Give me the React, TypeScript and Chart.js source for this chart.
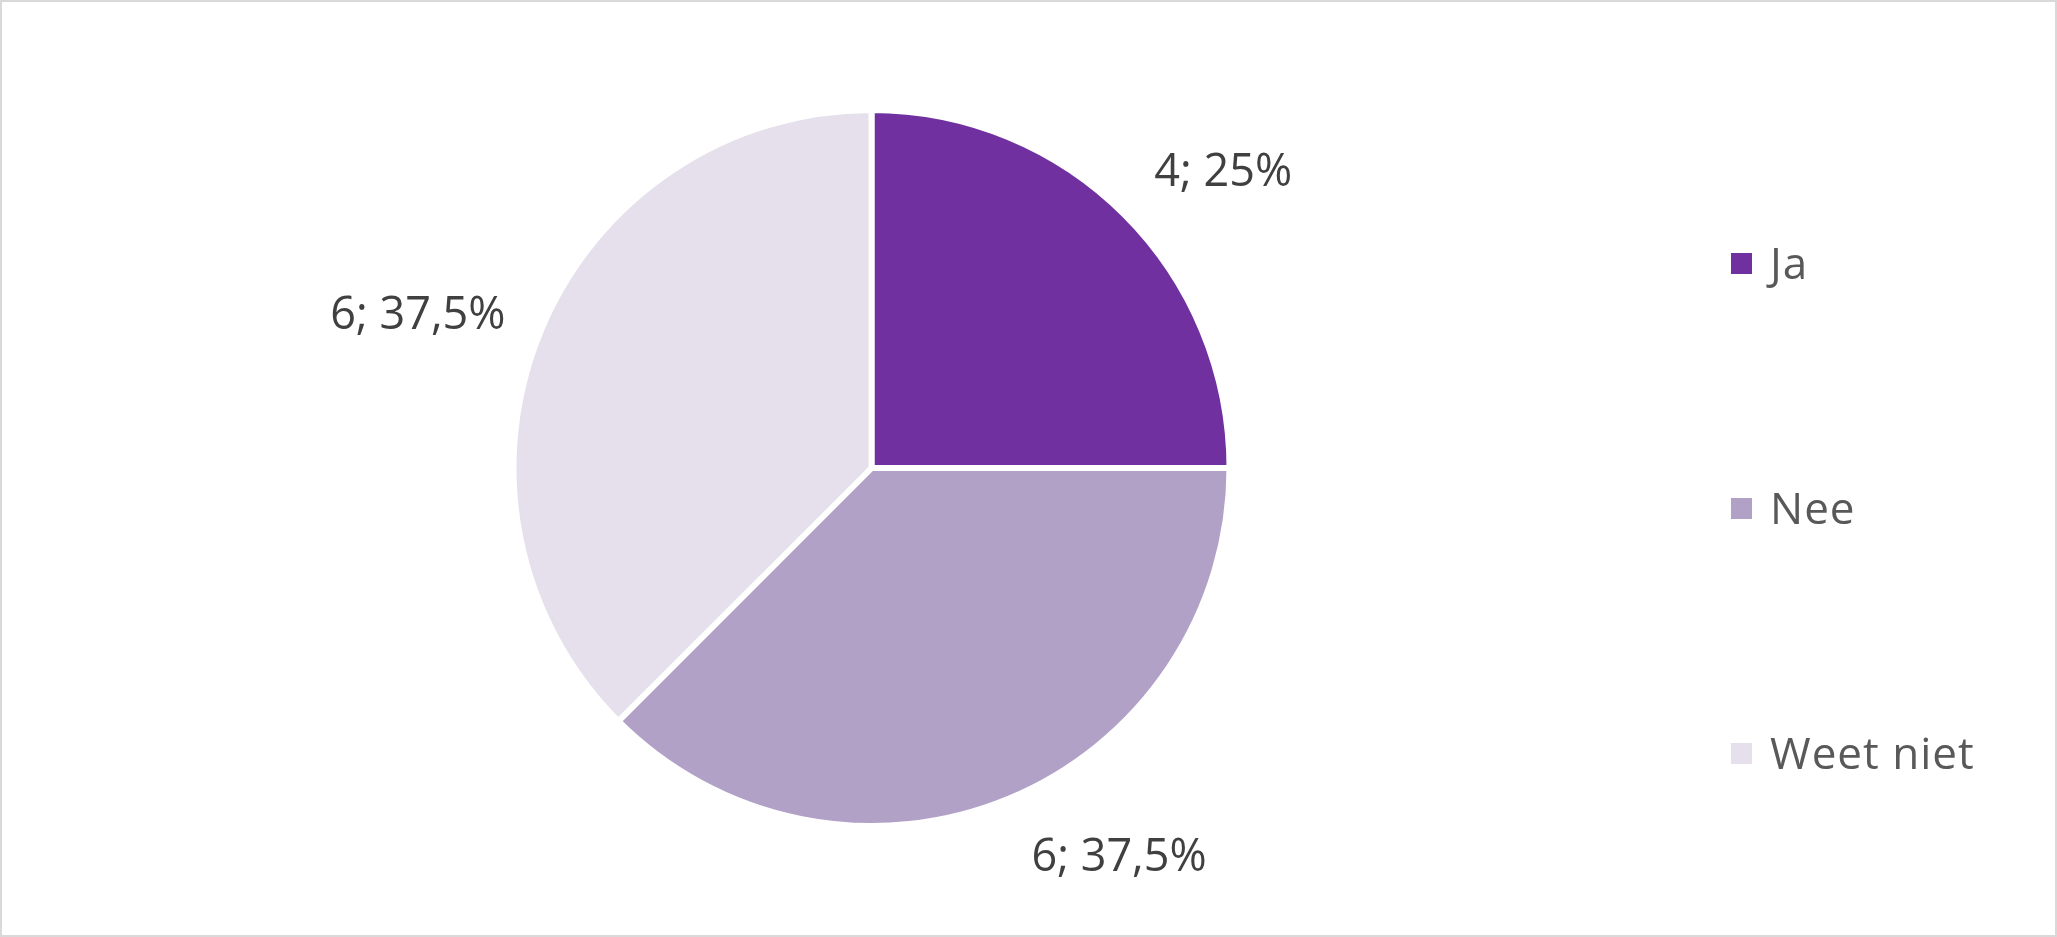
import React, { useEffect, useRef } from "react";
import { Chart, registerables } from "chart.js";

Chart.register(...registerables);

// ---- data ----
const categories: string[] = ["Ja", "Nee", "Weet niet"];
const counts: number[] = [4, 6, 6];
const sliceColors: string[] = ["#7030A0", "#B2A1C7", "#E5E0EC"];

// ---- label placement (relative to each arc) ----
const labelRadiusFactor: number[] = [1.29, 1.28, 1.34];
const labelAngleShiftDeg: number[] = [4.6, -10.2, -3.5];

// ---- legend layout ----
const legendRightOffset = 324;
const legendSpacing = 245;
const legendCenterOffset = 40;
const legendBoxW = 21;
const legendBoxH = 21;
const legendTextGap = 18;

const sliceLabelPlugin = {
  id: "sliceLabels",
  afterDatasetsDraw(chart: any) {
    const ctx = chart.ctx as CanvasRenderingContext2D;
    const meta = chart.getDatasetMeta(0);
    const data = chart.data.datasets[0].data as number[];
    const total = data.reduce((a, b) => a + b, 0);
    ctx.save();
    ctx.font = '45px "Open Sans"';
    ctx.fillStyle = "#404040";
    ctx.textAlign = "center";
    ctx.textBaseline = "alphabetic";
    const asc = ctx.measureText("0").actualBoundingBoxAscent;
    meta.data.forEach((arc: any, i: number) => {
      const { x, y, startAngle, endAngle, outerRadius } = arc.getProps(
        ["x", "y", "startAngle", "endAngle", "outerRadius"],
        true
      );
      const mid = (startAngle + endAngle) / 2 + (labelAngleShiftDeg[i] * Math.PI) / 180;
      const r = outerRadius * labelRadiusFactor[i];
      const lx = x + Math.cos(mid) * r;
      const ly = y + Math.sin(mid) * r;
      const pct = Math.round((data[i] / total) * 1000) / 10;
      const text = `${data[i]}; ${String(pct).replace(".", ",")}%`;
      ctx.fillText(text, lx, ly + asc / 2);
    });
    ctx.restore();
  },
};

const sideLegendPlugin = {
  id: "sideLegend",
  afterDraw(chart: any) {
    const ctx = chart.ctx as CanvasRenderingContext2D;
    const labels = chart.data.labels as string[];
    const colors = chart.data.datasets[0].backgroundColor as string[];
    const cy = chart.height / 2 + legendCenterOffset;
    const boxX = chart.width - legendRightOffset;
    ctx.save();
    ctx.font = '44px "Open Sans"';
    (ctx as any).letterSpacing = "1px";
    ctx.textAlign = "left";
    ctx.textBaseline = "alphabetic";
    const asc = ctx.measureText("N").actualBoundingBoxAscent;
    labels.forEach((lab, i) => {
      const yc = cy + (i - (labels.length - 1) / 2) * legendSpacing;
      ctx.fillStyle = colors[i];
      ctx.fillRect(boxX, yc - legendBoxH / 2, legendBoxW, legendBoxH);
      ctx.fillStyle = "#595959";
      ctx.fillText(lab, boxX + legendBoxW + legendTextGap, yc + asc / 2);
    });
    ctx.restore();
  },
};

export default function App() {
  const canvasRef = useRef<HTMLCanvasElement | null>(null);

  useEffect(() => {
    if (!canvasRef.current) return;
    const chart = new Chart(canvasRef.current, {
      type: "pie",
      data: {
        labels: categories,
        datasets: [
          {
            data: counts,
            backgroundColor: sliceColors,
            borderColor: "#ffffff",
            borderWidth: 6,
          },
        ],
      },
      options: {
        animation: false,
        responsive: true,
        maintainAspectRatio: false,
        layout: { padding: { left: 100, right: 414, top: 105, bottom: 106 } },
        plugins: {
          legend: { display: false },
          tooltip: { enabled: false },
          title: { display: false },
        },
      },
      plugins: [sliceLabelPlugin, sideLegendPlugin],
    });
    return () => chart.destroy();
  }, []);

  return (
    <div
      style={{
        position: "fixed",
        inset: 0,
        border: "2px solid #d9d9d9",
        boxSizing: "border-box",
        background: "#ffffff",
      }}
    >
      <canvas ref={canvasRef} />
    </div>
  );
}
